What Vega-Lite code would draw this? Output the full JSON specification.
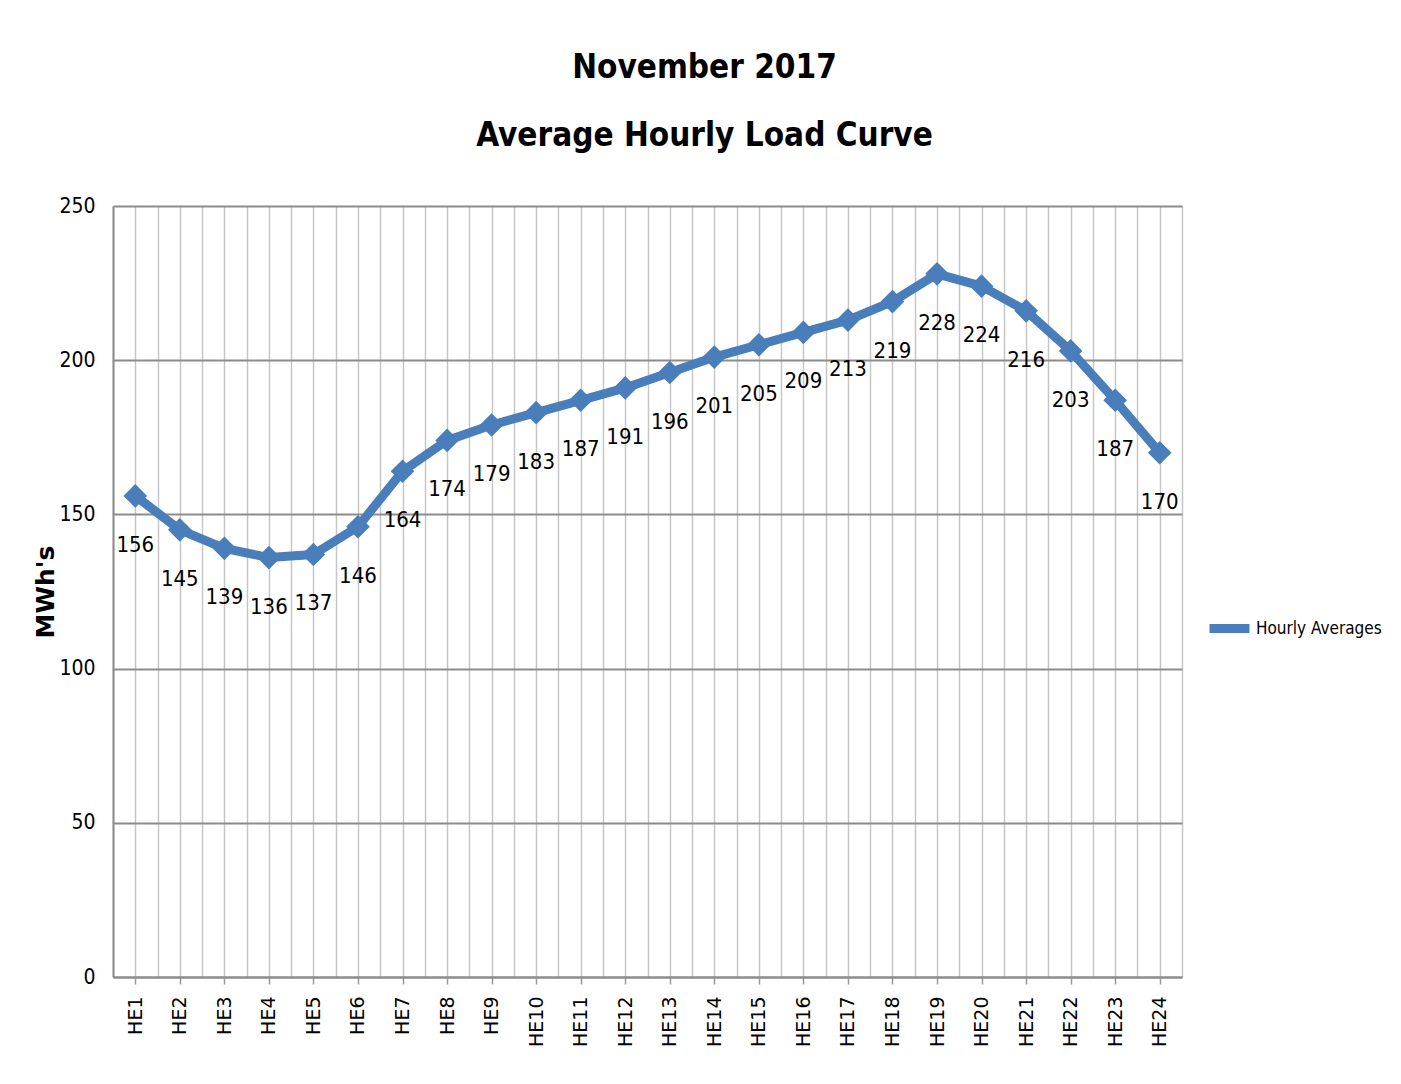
{
  "$schema": "https://vega.github.io/schema/vega-lite/v6.json",
  "width": 1069,
  "height": 771,
  "autosize": {"type": "none"},
  "padding": {"left": 113, "top": 206, "right": 219, "bottom": 107},
  "background": "white",
  "config": {
    "view": {"stroke": null},
    "font": "DejaVu Sans Condensed, Liberation Sans, sans-serif"
  },
  "title": {
    "text": ["November 2017", "Average Hourly Load Curve"],
    "font": "DejaVu Sans Condensed, Liberation Sans, sans-serif",
    "fontSize": 33,
    "fontWeight": "bold",
    "lineHeight": 68,
    "color": "black",
    "anchor": "middle",
    "dx": 57,
    "offset": 42
  },
  "data": {
    "values": [
      {"hour": 1, "series": "Hourly Averages", "mwh": 156},
      {"hour": 2, "series": "Hourly Averages", "mwh": 145},
      {"hour": 3, "series": "Hourly Averages", "mwh": 139},
      {"hour": 4, "series": "Hourly Averages", "mwh": 136},
      {"hour": 5, "series": "Hourly Averages", "mwh": 137},
      {"hour": 6, "series": "Hourly Averages", "mwh": 146},
      {"hour": 7, "series": "Hourly Averages", "mwh": 164},
      {"hour": 8, "series": "Hourly Averages", "mwh": 174},
      {"hour": 9, "series": "Hourly Averages", "mwh": 179},
      {"hour": 10, "series": "Hourly Averages", "mwh": 183},
      {"hour": 11, "series": "Hourly Averages", "mwh": 187},
      {"hour": 12, "series": "Hourly Averages", "mwh": 191},
      {"hour": 13, "series": "Hourly Averages", "mwh": 196},
      {"hour": 14, "series": "Hourly Averages", "mwh": 201},
      {"hour": 15, "series": "Hourly Averages", "mwh": 205},
      {"hour": 16, "series": "Hourly Averages", "mwh": 209},
      {"hour": 17, "series": "Hourly Averages", "mwh": 213},
      {"hour": 18, "series": "Hourly Averages", "mwh": 219},
      {"hour": 19, "series": "Hourly Averages", "mwh": 228},
      {"hour": 20, "series": "Hourly Averages", "mwh": 224},
      {"hour": 21, "series": "Hourly Averages", "mwh": 216},
      {"hour": 22, "series": "Hourly Averages", "mwh": 203},
      {"hour": 23, "series": "Hourly Averages", "mwh": 187},
      {"hour": 24, "series": "Hourly Averages", "mwh": 170}
    ]
  },
  "layer": [
    {
      "mark": {"type": "text", "dy": 49, "baseline": "middle", "align": "center", "fontSize": 22, "color": "black", "font": "DejaVu Sans Condensed, Liberation Sans, sans-serif"},
      "encoding": {
        "x": {
          "field": "hour", "type": "quantitative",
          "scale": {"domain": [0.5, 24.5], "nice": false, "zero": false},
          "axis": {
            "orient": "top",
            "values": [0.5, 1.5, 2.5, 3.5, 4.5, 5.5, 6.5, 7.5, 8.5, 9.5, 10.5, 11.5, 12.5, 13.5, 14.5, 15.5, 16.5, 17.5, 18.5, 19.5, 20.5, 21.5, 22.5, 23.5, 24.5],
            "grid": true, "gridColor": "#c6c6c6", "gridWidth": 1.5, "gridOpacity": 1,
            "labels": false, "ticks": false, "domain": false, "title": null
          }
        },
        "y": {
          "field": "mwh", "type": "quantitative",
          "scale": {"domain": [0, 250], "nice": false},
          "axis": {
            "values": [0, 50, 100, 150, 200, 250],
            "grid": true, "gridColor": "#8c8c8c", "gridWidth": 2, "gridOpacity": 1,
            "ticks": false,
            "domain": true, "domainColor": "#8c8c8c", "domainWidth": 2,
            "labelFont": "DejaVu Sans Condensed, Liberation Sans, sans-serif",
            "labelFontSize": 21, "labelColor": "black", "labelPadding": 18,
            "title": "MWh's", "titleFont": "DejaVu Sans", "titleFontSize": 25, "titleFontWeight": "bold",
            "titleColor": "black", "titlePadding": 0
          }
        },
        "text": {"field": "mwh", "type": "quantitative"}
      }
    },
    {
      "mark": {"type": "line", "strokeWidth": 9, "strokeJoin": "round", "point": {"shape": "diamond", "size": 560, "filled": true, "color": "#4a83d0", "opacity": 1}},
      "encoding": {
        "x": {
          "field": "hour", "type": "quantitative",
          "axis": {
            "orient": "bottom",
            "values": [1, 2, 3, 4, 5, 6, 7, 8, 9, 10, 11, 12, 13, 14, 15, 16, 17, 18, 19, 20, 21, 22, 23, 24],
            "labelExpr": "'HE' + datum.value",
            "labelAngle": 270, "labelAlign": "right", "labelBaseline": "middle",
            "labelFont": "DejaVu Sans", "labelFontSize": 19, "labelColor": "black", "labelPadding": 12,
            "grid": true, "gridColor": "#c6c6c6", "gridWidth": 1.5, "gridOpacity": 1,
            "ticks": true, "tickColor": "#9a9a9a", "tickSize": 7, "tickWidth": 1.5,
            "domain": true, "domainColor": "#8c8c8c", "domainWidth": 2,
            "title": null
          }
        },
        "y": {"field": "mwh", "type": "quantitative"},
        "color": {
          "field": "series", "type": "nominal",
          "scale": {"range": ["#4a7ebb"]},
          "legend": {
            "title": null, "orient": "none", "legendX": 1092, "legendY": 398,
            "symbolType": "stroke", "symbolSize": 1600, "symbolStrokeWidth": 9,
            "labelFont": "DejaVu Sans Condensed, Liberation Sans, sans-serif",
            "labelFontSize": 17, "labelColor": "black", "labelOffset": 2, "labelLimit": 300, "padding": 0
          }
        }
      }
    }
  ],
  "resolve": {"axis": {"x": "independent"}}
}
